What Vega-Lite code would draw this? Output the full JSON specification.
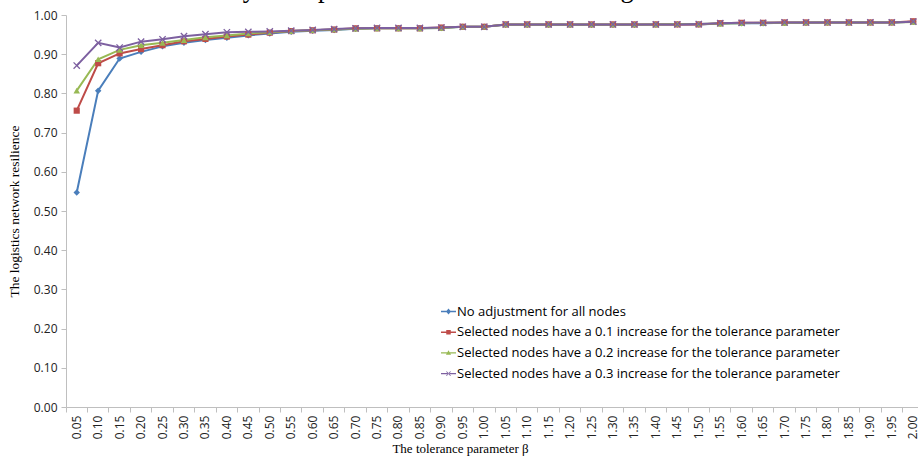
{
  "$schema": "https://vega.github.io/schema/vega-lite/v6.json",
  "width": 852,
  "height": 392,
  "autosize": {"type": "none"},
  "padding": {"left": 66, "top": 15, "right": 0, "bottom": 54},
  "background": "white",
  "title": {
    "text": "it is a cost-efficient way to improve the resilience of the logistics network.",
    "anchor": "start", "frame": "group", "baseline": "alphabetic", "offset": 0, "dx": -64, "dy": 14,
    "font": "Liberation Serif", "fontSize": 26.5, "fontWeight": "normal", "color": "#000"
  },
  "config": {
    "view": {"stroke": null},
    "legend": {
      "orient": "none", "legendX": 375, "legendY": 289, "title": null, "padding": 0,
      "symbolSize": 225, "symbolStrokeWidth": 0, "symbolOpacity": 1, "labelFont": "Open Sans", "labelFontSize": 13,
      "labelColor": "#000", "labelOffset": 1, "rowPadding": 5.7, "labelLimit": 0
    }
  },
  "data": {"values": [
    {"b":"0.05","s":"s0","v":0.547},{"b":"0.10","s":"s0","v":0.807},{"b":"0.15","s":"s0","v":0.889},{"b":"0.20","s":"s0","v":0.906},{"b":"0.25","s":"s0","v":0.920},{"b":"0.30","s":"s0","v":0.929},{"b":"0.35","s":"s0","v":0.936},{"b":"0.40","s":"s0","v":0.942},{"b":"0.45","s":"s0","v":0.948},{"b":"0.50","s":"s0","v":0.953},
    {"b":"0.55","s":"s0","v":0.957},{"b":"0.60","s":"s0","v":0.960},{"b":"0.65","s":"s0","v":0.962},{"b":"0.70","s":"s0","v":0.965},{"b":"0.75","s":"s0","v":0.966},{"b":"0.80","s":"s0","v":0.966},{"b":"0.85","s":"s0","v":0.966},{"b":"0.90","s":"s0","v":0.967},{"b":"0.95","s":"s0","v":0.970},{"b":"1.00","s":"s0","v":0.970},
    {"b":"1.05","s":"s0","v":0.975},{"b":"1.10","s":"s0","v":0.975},{"b":"1.15","s":"s0","v":0.975},{"b":"1.20","s":"s0","v":0.975},{"b":"1.25","s":"s0","v":0.975},{"b":"1.30","s":"s0","v":0.975},{"b":"1.35","s":"s0","v":0.975},{"b":"1.40","s":"s0","v":0.976},{"b":"1.45","s":"s0","v":0.976},{"b":"1.50","s":"s0","v":0.976},
    {"b":"1.55","s":"s0","v":0.978},{"b":"1.60","s":"s0","v":0.979},{"b":"1.65","s":"s0","v":0.979},{"b":"1.70","s":"s0","v":0.980},{"b":"1.75","s":"s0","v":0.980},{"b":"1.80","s":"s0","v":0.981},{"b":"1.85","s":"s0","v":0.981},{"b":"1.90","s":"s0","v":0.981},{"b":"1.95","s":"s0","v":0.981},{"b":"2.00","s":"s0","v":0.983},

    {"b":"0.05","s":"s1","v":0.756},{"b":"0.10","s":"s1","v":0.877},{"b":"0.15","s":"s1","v":0.902},{"b":"0.20","s":"s1","v":0.913},{"b":"0.25","s":"s1","v":0.923},{"b":"0.30","s":"s1","v":0.933},{"b":"0.35","s":"s1","v":0.939},{"b":"0.40","s":"s1","v":0.945},{"b":"0.45","s":"s1","v":0.950},{"b":"0.50","s":"s1","v":0.955},
    {"b":"0.55","s":"s1","v":0.959},{"b":"0.60","s":"s1","v":0.961},{"b":"0.65","s":"s1","v":0.963},{"b":"0.70","s":"s1","v":0.966},{"b":"0.75","s":"s1","v":0.966},{"b":"0.80","s":"s1","v":0.966},{"b":"0.85","s":"s1","v":0.966},{"b":"0.90","s":"s1","v":0.968},{"b":"0.95","s":"s1","v":0.970},{"b":"1.00","s":"s1","v":0.970},
    {"b":"1.05","s":"s1","v":0.976},{"b":"1.10","s":"s1","v":0.976},{"b":"1.15","s":"s1","v":0.976},{"b":"1.20","s":"s1","v":0.976},{"b":"1.25","s":"s1","v":0.976},{"b":"1.30","s":"s1","v":0.976},{"b":"1.35","s":"s1","v":0.976},{"b":"1.40","s":"s1","v":0.976},{"b":"1.45","s":"s1","v":0.976},{"b":"1.50","s":"s1","v":0.976},
    {"b":"1.55","s":"s1","v":0.979},{"b":"1.60","s":"s1","v":0.980},{"b":"1.65","s":"s1","v":0.980},{"b":"1.70","s":"s1","v":0.981},{"b":"1.75","s":"s1","v":0.981},{"b":"1.80","s":"s1","v":0.981},{"b":"1.85","s":"s1","v":0.981},{"b":"1.90","s":"s1","v":0.981},{"b":"1.95","s":"s1","v":0.981},{"b":"2.00","s":"s1","v":0.984},

    {"b":"0.05","s":"s2","v":0.807},{"b":"0.10","s":"s2","v":0.887},{"b":"0.15","s":"s2","v":0.911},{"b":"0.20","s":"s2","v":0.923},{"b":"0.25","s":"s2","v":0.929},{"b":"0.30","s":"s2","v":0.936},{"b":"0.35","s":"s2","v":0.943},{"b":"0.40","s":"s2","v":0.948},{"b":"0.45","s":"s2","v":0.953},{"b":"0.50","s":"s2","v":0.956},
    {"b":"0.55","s":"s2","v":0.959},{"b":"0.60","s":"s2","v":0.961},{"b":"0.65","s":"s2","v":0.963},{"b":"0.70","s":"s2","v":0.965},{"b":"0.75","s":"s2","v":0.966},{"b":"0.80","s":"s2","v":0.966},{"b":"0.85","s":"s2","v":0.966},{"b":"0.90","s":"s2","v":0.967},{"b":"0.95","s":"s2","v":0.970},{"b":"1.00","s":"s2","v":0.970},
    {"b":"1.05","s":"s2","v":0.976},{"b":"1.10","s":"s2","v":0.976},{"b":"1.15","s":"s2","v":0.976},{"b":"1.20","s":"s2","v":0.976},{"b":"1.25","s":"s2","v":0.976},{"b":"1.30","s":"s2","v":0.976},{"b":"1.35","s":"s2","v":0.976},{"b":"1.40","s":"s2","v":0.976},{"b":"1.45","s":"s2","v":0.977},{"b":"1.50","s":"s2","v":0.977},
    {"b":"1.55","s":"s2","v":0.978},{"b":"1.60","s":"s2","v":0.979},{"b":"1.65","s":"s2","v":0.980},{"b":"1.70","s":"s2","v":0.980},{"b":"1.75","s":"s2","v":0.981},{"b":"1.80","s":"s2","v":0.981},{"b":"1.85","s":"s2","v":0.981},{"b":"1.90","s":"s2","v":0.981},{"b":"1.95","s":"s2","v":0.981},{"b":"2.00","s":"s2","v":0.982},

    {"b":"0.05","s":"s3","v":0.871},{"b":"0.10","s":"s3","v":0.929},{"b":"0.15","s":"s3","v":0.917},{"b":"0.20","s":"s3","v":0.932},{"b":"0.25","s":"s3","v":0.938},{"b":"0.30","s":"s3","v":0.946},{"b":"0.35","s":"s3","v":0.951},{"b":"0.40","s":"s3","v":0.956},{"b":"0.45","s":"s3","v":0.957},{"b":"0.50","s":"s3","v":0.958},
    {"b":"0.55","s":"s3","v":0.960},{"b":"0.60","s":"s3","v":0.962},{"b":"0.65","s":"s3","v":0.964},{"b":"0.70","s":"s3","v":0.966},{"b":"0.75","s":"s3","v":0.967},{"b":"0.80","s":"s3","v":0.967},{"b":"0.85","s":"s3","v":0.967},{"b":"0.90","s":"s3","v":0.968},{"b":"0.95","s":"s3","v":0.970},{"b":"1.00","s":"s3","v":0.970},
    {"b":"1.05","s":"s3","v":0.976},{"b":"1.10","s":"s3","v":0.976},{"b":"1.15","s":"s3","v":0.976},{"b":"1.20","s":"s3","v":0.976},{"b":"1.25","s":"s3","v":0.976},{"b":"1.30","s":"s3","v":0.976},{"b":"1.35","s":"s3","v":0.976},{"b":"1.40","s":"s3","v":0.976},{"b":"1.45","s":"s3","v":0.976},{"b":"1.50","s":"s3","v":0.977},
    {"b":"1.55","s":"s3","v":0.979},{"b":"1.60","s":"s3","v":0.980},{"b":"1.65","s":"s3","v":0.980},{"b":"1.70","s":"s3","v":0.981},{"b":"1.75","s":"s3","v":0.981},{"b":"1.80","s":"s3","v":0.981},{"b":"1.85","s":"s3","v":0.981},{"b":"1.90","s":"s3","v":0.981},{"b":"1.95","s":"s3","v":0.981},{"b":"2.00","s":"s3","v":0.983}
  ]},
  "encoding": {
    "x": {
      "field": "b", "type": "ordinal", "sort": null,
      "scale": {"type": "band", "range": [0, 858], "paddingInner": 0, "paddingOuter": 0},
      "axis": {
        "title": "The tolerance parameter β", "titleFont": "Liberation Serif", "titleFontSize": 13,
        "titleFontWeight": "normal", "titleColor": "#000", "titleX": 394, "titlePadding": 4,
        "labelAngle": -90, "labelFont": "Open Sans", "labelFontSize": 12, "labelColor": "#222",
        "labelPadding": 3, "bandPosition": 0, "labelOverlap": false,
        "tickSize": 5, "tickColor": "#bfbfbf", "domainColor": "#bfbfbf", "grid": false
      }
    },
    "y": {
      "field": "v", "type": "quantitative",
      "scale": {"domain": [0, 1], "nice": false, "zero": true},
      "axis": {
        "title": "The logistics network resilience", "titleFont": "Liberation Serif", "titleFontSize": 13.5,
        "titleFontWeight": "normal", "titleColor": "#000", "titlePadding": 12,
        "values": [0, 0.1, 0.2, 0.3, 0.4, 0.5, 0.6, 0.7, 0.8, 0.9, 1.0], "format": ".2f",
        "labelFont": "Open Sans", "labelFontSize": 12, "labelColor": "#222", "labelPadding": 4,
        "tickSize": 5, "tickColor": "#bfbfbf", "domainColor": "#bfbfbf", "grid": false
      }
    }
  },
  "layer": [
    {"transform": [{"filter": "datum.s == 's0'"}], "mark": {"type": "line", "strokeWidth": 2, "color": "#4a7ebb"}, "encoding": {}},
    {"transform": [{"filter": "datum.s == 's1'"}], "mark": {"type": "line", "strokeWidth": 2, "color": "#be4b48"}, "encoding": {}},
    {"transform": [{"filter": "datum.s == 's2'"}], "mark": {"type": "line", "strokeWidth": 2, "color": "#98b954"}, "encoding": {}},
    {"transform": [{"filter": "datum.s == 's3'"}], "mark": {"type": "line", "strokeWidth": 2, "color": "#7d60a0"}, "encoding": {}},
    {
      "transform": [{"filter": "datum.s == 's0'"}],
      "mark": {"type": "point", "shape": "diamond", "filled": true, "color": "#4a7ebb", "size": 42, "opacity": 1}
    },
    {
      "transform": [{"filter": "datum.s == 's1'"}],
      "mark": {"type": "point", "shape": "square", "filled": true, "color": "#be4b48", "size": 38, "opacity": 1}
    },
    {
      "transform": [{"filter": "datum.s == 's2'"}],
      "mark": {"type": "point", "shape": "triangle-up", "filled": true, "color": "#98b954", "size": 42, "opacity": 1}
    },
    {
      "transform": [{"filter": "datum.s == 's3'"}],
      "mark": {"type": "point", "shape": "M-1,-1L1,1M-1,1L1,-1", "filled": false, "color": "#7d60a0", "strokeWidth": 1.3, "size": 40, "opacity": 1}
    },
    {
      "mark": {"type": "point", "filled": true, "opacity": 0},
      "encoding": {
        "color": {"field": "s", "type": "nominal",
          "scale": {"domain": ["s0", "s1", "s2", "s3"], "range": ["#4a7ebb", "#be4b48", "#98b954", "#7d60a0"]},
          "legend": {
            "labelExpr": "datum.value == 's0' ? 'No adjustment for all nodes' : datum.value == 's1' ? 'Selected nodes have a 0.1 increase for the tolerance parameter' : datum.value == 's2' ? 'Selected nodes have a 0.2 increase for the tolerance parameter' : 'Selected nodes have a 0.3 increase for the tolerance parameter'"
          }},
        "shape": {"field": "s", "type": "nominal",
          "scale": {"domain": ["s0", "s1", "s2", "s3"], "range": [
            "M-1,-0.09L1,-0.09L1,0.09L-1,0.09ZM0,-0.4L0.34,0L0,0.4L-0.34,0Z",
            "M-1,-0.09L1,-0.09L1,0.09L-1,0.09ZM-0.3,-0.3L0.3,-0.3L0.3,0.3L-0.3,0.3Z",
            "M-1,-0.09L1,-0.09L1,0.09L-1,0.09ZM0,-0.34L0.34,0.26L-0.34,0.26Z",
            "M-1,-0.09L1,-0.09L1,0.09L-1,0.09ZM-0.32,-0.24L-0.24,-0.32L0.32,0.24L0.24,0.32ZM-0.32,0.24L-0.24,0.32L0.32,-0.24L0.24,-0.32Z"
          ]},
          "legend": {
            "labelExpr": "datum.value == 's0' ? 'No adjustment for all nodes' : datum.value == 's1' ? 'Selected nodes have a 0.1 increase for the tolerance parameter' : datum.value == 's2' ? 'Selected nodes have a 0.2 increase for the tolerance parameter' : 'Selected nodes have a 0.3 increase for the tolerance parameter'"
          }}
      }
    }
  ]
}
